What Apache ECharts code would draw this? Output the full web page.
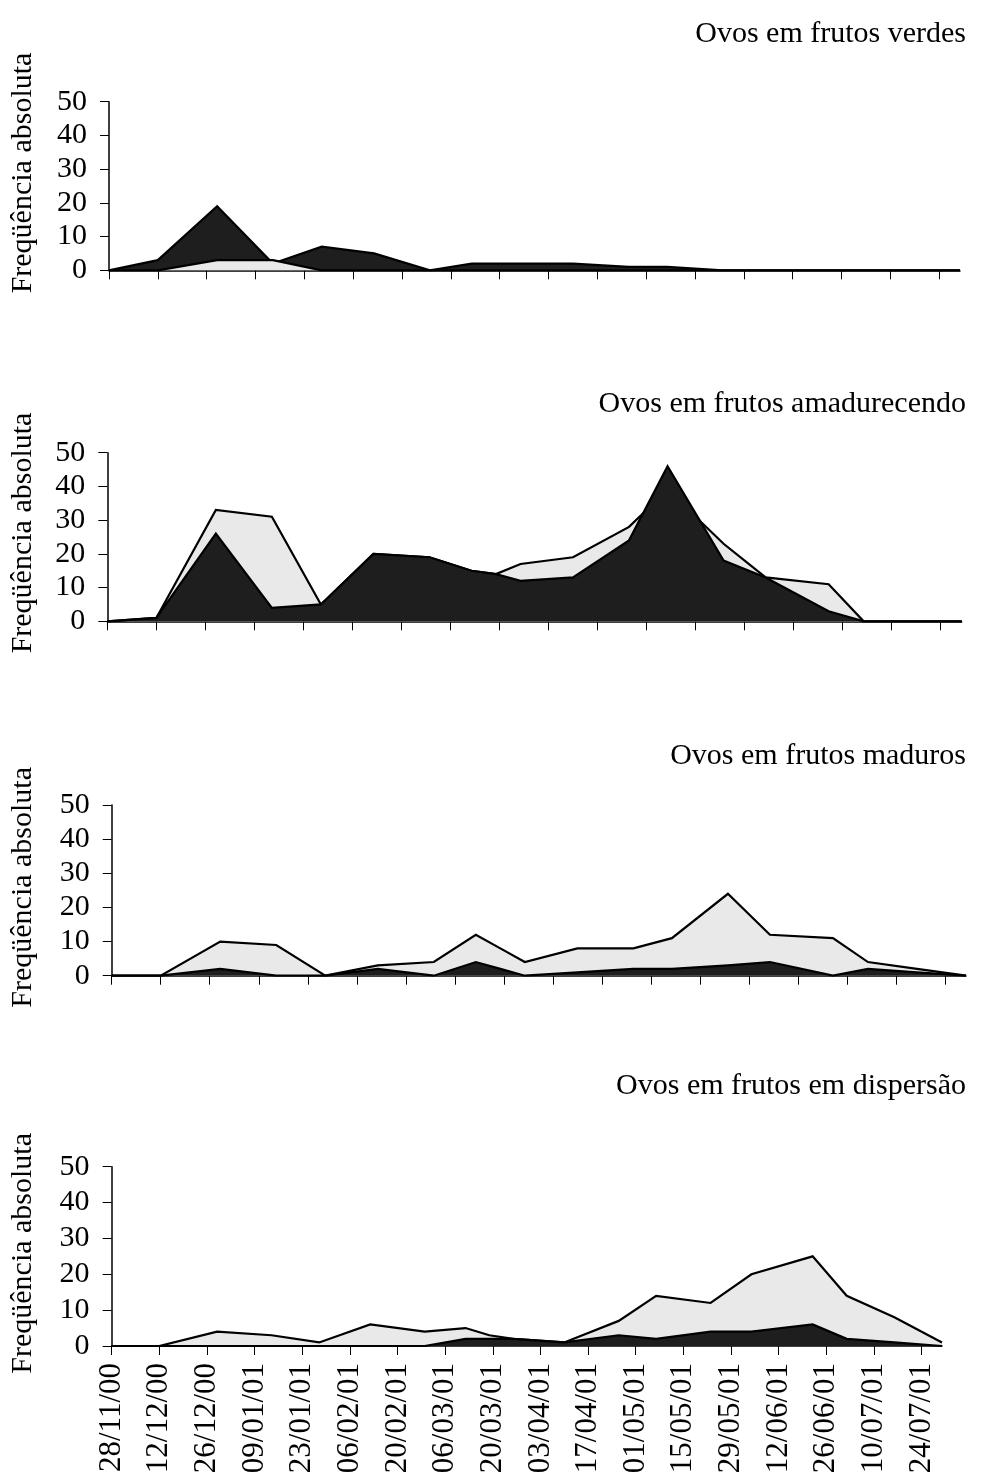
<!DOCTYPE html>
<html>
<head>
<meta charset="utf-8">
<script src="https://cdn.jsdelivr.net/npm/echarts@6/dist/echarts.min.js"></script>
<style>
  html, body { margin: 0; padding: 0; background: #ffffff; }
  #chart { width: 985px; height: 1481px; }
</style>
</head>
<body>
<div id="chart"></div>
<script>
// Fortnightly axis labels (start date of each 14-day step)
const tickLabels = ['28/11/00', '12/12/00', '26/12/00', '09/01/01', '23/01/01', '06/02/01',
  '20/02/01', '06/03/01', '20/03/01', '03/04/01', '17/04/01', '01/05/01', '15/05/01',
  '29/05/01', '12/06/01', '26/06/01', '10/07/01', '24/07/01'];

// Sampling dates (dd/mm/yy)
const sampleDates = ['28/11/00', '12/12/00', '29/12/00', '14/01/01', '28/01/01', '12/02/01',
  '28/02/01', '12/03/01', '19/03/01', '26/03/01', '10/04/01', '26/04/01', '07/05/01',
  '23/05/01', '04/06/01', '22/06/01', '02/07/01', '16/07/01', '30/07/01'];

const panelTitles = ['Ovos em frutos verdes', 'Ovos em frutos amadurecendo',
  'Ovos em frutos maduros', 'Ovos em frutos em dispersão'];
const yAxisTitle = 'Freqüência absoluta';

// Egg counts per sampling date: light series and dark series, one pair per fruit stage
const verdesLight = [0, 0, 3, 3, 0, 0, 0, 0, 0, 0, 0, 0, 0, 0, 0, 0, 0, 0, 0];
const verdesDark  = [0, 3, 19, 2, 7, 5, 0, 2, 2, 2, 2, 1, 1, 0, 0, 0, 0, 0, 0];

const amadurecendoLight = [0, 1, 33, 31, 5, 20, 19, 15, 14, 17, 19, 28, 39, 23, 13, 11, 0, 0, 0];
const amadurecendoDark  = [0, 1, 26, 4, 5, 20, 19, 15, 14, 12, 13, 24, 46, 18, 13, 3, 0, 0, 0];

const madurosLight = [0, 0, 10, 9, 0, 3, 4, 12, 8, 4, 8, 8, 11, 24, 12, 11, 4, 2, 0];
const madurosDark  = [0, 0, 2, 0, 0, 2, 0, 4, 2, 0, 1, 2, 2, 3, 4, 0, 2, 1, 0];

const dispersaoLight = [0, 0, 4, 3, 1, 6, 4, 5, 3, 2, 1, 7, 14, 12, 20, 25, 14, 8, 1];
const dispersaoDark  = [0, 0, 0, 0, 0, 0, 0, 2, 2, 2, 1, 3, 2, 4, 4, 6, 2, 1, 0];

// ---- helpers ----
function parseDate(s) {
  const [d, m, y] = s.split('/').map(Number);
  return Date.UTC(2000 + y, m - 1, d);
}
const DAY = 86400000;
const t0 = parseDate(tickLabels[0]);
const sampleDays = sampleDates.map(s => Math.round((parseDate(s) - t0) / DAY));
const tickDays = tickLabels.map(s => Math.round((parseDate(s) - t0) / DAY));
const lastDay = sampleDays[sampleDays.length - 1];

const FONT = "'Liberation Serif', 'Times New Roman', serif";
const LIGHT_FILL = '#e9e9e9';
const DARK_FILL = '#1e1e1e';

// Plot boxes of the four stacked panels
const panels = [
  { light: verdesLight, dark: verdesDark, lightOnTop: true, namePad: 26,
    left: 109, right: 25, top: 101.7, height: 168.6, titleTop: 14 },
  { light: amadurecendoLight, dark: amadurecendoDark, lightOnTop: false, namePad: 8,
    left: 107.3, right: 23.3, top: 452.7, height: 168.6, titleTop: 384 },
  { light: madurosLight, dark: madurosDark, lightOnTop: false, namePad: 6,
    left: 111.7, right: 19, top: 805, height: 170.7, titleTop: 736 },
  { light: dispersaoLight, dark: dispersaoDark, lightOnTop: false, namePad: 6,
    left: 111.6, right: 43, top: 1166.7, height: 179.3, titleTop: 1066 }
];

const grid = [], xAxis = [], yAxis = [], series = [], title = [];

panels.forEach((p, i) => {
  const isLast = i === panels.length - 1;
  grid.push({ left: p.left, right: p.right, top: p.top, height: p.height,
    containLabel: false, outerBoundsMode: 'none' });
  title.push({
    text: panelTitles[i], right: 14, top: p.titleTop,
    textStyle: { fontFamily: FONT, fontSize: 30, fontWeight: 'normal', color: '#000' }
  });
  xAxis.push({
    type: 'value', gridIndex: i, min: 0, max: lastDay, interval: 14,
    axisLine: { show: true, onZero: false, lineStyle: { color: '#000', width: 1.5 } },
    axisTick: { show: true, length: 9, inside: false, customValues: tickDays,
      lineStyle: { color: '#000', width: 1 } },
    axisLabel: {
      show: isLast, customValues: tickDays, rotate: 90, margin: 17,
      fontFamily: FONT, fontSize: 31, color: '#000',
      formatter: v => tickLabels[Math.round(v / 14)] || ''
    },
    splitLine: { show: false }
  });
  yAxis.push({
    type: 'value', gridIndex: i, min: 0, max: 50, interval: 10,
    name: yAxisTitle, nameLocation: 'middle', nameGap: p.left - 38, nameRotate: 90,
    nameTextStyle: { fontFamily: FONT, fontSize: 30, color: '#000',
      padding: [0, 0, 0, p.namePad] },
    axisLine: { show: true, lineStyle: { color: '#000', width: 1.5 } },
    axisTick: { show: true, length: 9, lineStyle: { color: '#000', width: 1 } },
    axisLabel: { margin: 22, fontFamily: FONT, fontSize: 30, color: '#000' },
    splitLine: { show: false }
  });

  const mk = (vals, fill, z) => ({
    type: 'line', xAxisIndex: i, yAxisIndex: i, z,
    data: vals.map((v, k) => [sampleDays[k], v]),
    symbol: 'none', silent: true, animation: false,
    lineStyle: { color: '#000', width: 2.2, join: 'miter' },
    areaStyle: { color: fill, opacity: 1, origin: 'start' }
  });
  // the front series sits on a higher z so its fill hides the back outline
  series.push(mk(p.light, LIGHT_FILL, p.lightOnTop ? 4 : 3));
  series.push(mk(p.dark, DARK_FILL, p.lightOnTop ? 3 : 4));
});

const chart = echarts.init(document.getElementById('chart'), null, { renderer: 'canvas' });
chart.setOption({
  animation: false,
  backgroundColor: '#ffffff',
  title, grid, xAxis, yAxis, series
});
</script>
</body>
</html>
